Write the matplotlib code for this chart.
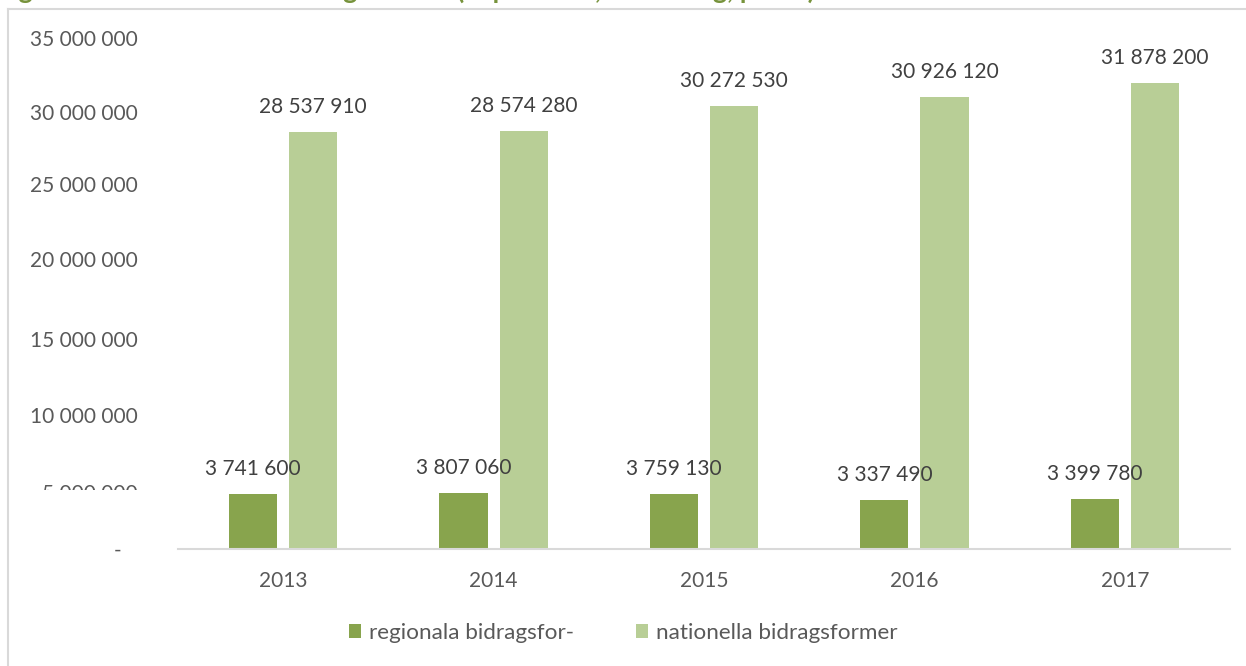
import matplotlib
matplotlib.use("Agg")
import matplotlib.pyplot as plt
from matplotlib.patches import Rectangle
from matplotlib.lines import Line2D
from matplotlib.transforms import ScaledTranslation
import numpy as np

years = ["2013", "2014", "2015", "2016", "2017"]
regional = [3741600, 3807060, 3759130, 3337490, 3399780]
national = [28537910, 28574280, 30272530, 30926120, 31878200]
series_names = ["regionala bidragsfor-", "nationella bidragsformer"]
yticks = [0, 5000000, 10000000, 15000000, 20000000, 25000000, 30000000, 35000000]
title = "Regionala och nationella bidragsformer (exportstöd, utbildning, priser) 2013–2017"

plt.rcParams['font.family'] = ['Lato', 'DejaVu Sans']
txt = '#404040'
axtxt = '#595959'
c_dark = '#88A44D'
c_light = '#B8CE96'
FS = 15

def fmt(v):
    if v == 0:
        return "-   "
    return f"{v:,}".replace(",", " ")

fig = plt.figure(figsize=(12.46, 6.66), dpi=100)
W, H = 1246, 666
ax = fig.add_axes([178 / W, 1 - 549 / H, (1230 - 178) / W, (549 - 37) / H])

x = np.arange(len(years))
off = 30 / 210
bw = 48 / 210
b1 = ax.bar(x - off, regional, bw, color=c_dark, label=series_names[0], zorder=2)
b2 = ax.bar(x + off, national, bw, color=c_light, label=series_names[1], zorder=2)

for bars, vals in ((b1, regional), (b2, national)):
    for r, v in zip(bars, vals):
        ax.annotate(fmt(v), (r.get_x() + r.get_width() / 2, v), xytext=(0, 18),
                    textcoords='offset points', ha='center', va='center',
                    fontsize=FS, color=txt, zorder=3)

ax.set_xlim(-0.5, len(years) - 0.5)
ax.set_ylim(0, 35000000)
ax.set_xticks(x)
ax.set_xticklabels(years, fontsize=FS, color=axtxt)
ax.set_yticks(yticks)
ax.set_yticklabels([fmt(v) for v in yticks], fontsize=FS, color=axtxt)
ax.tick_params(axis='both', length=0)
ax.tick_params(axis='y', pad=29)
ax.tick_params(axis='x', pad=16)
for s in ['top', 'right', 'left']:
    ax.spines[s].set_visible(False)
ax.spines['bottom'].set_color('#D9D9D9')
ax.spines['bottom'].set_linewidth(1.5)

# the reference's y labels drift slightly downward (pixels)
label_shift = [0, 16, 12, 9, 3, 1, 2, 1]
for tick, dy in zip(ax.yaxis.get_major_ticks(), label_shift):
    lab = tick.label1
    lab.set_transform(lab.get_transform() +
                      ScaledTranslation(0, -dy / 100, fig.dpi_scale_trans))

# white patch covering the lower part of the "5 000 000" label as in reference
fig.add_artist(Rectangle((20 / W, 1 - 542 / H), 150 / W, 52 / H,
                         transform=fig.transFigure, facecolor='white',
                         edgecolor='none', zorder=5))

# outer chart frame (left and top)
fig.add_artist(Line2D([8 / W, 8 / W], [0, 1 - 9 / H], transform=fig.transFigure,
                      color='#D9D9D9', lw=1.5))
fig.add_artist(Line2D([8 / W, 1], [1 - 9 / H, 1 - 9 / H], transform=fig.transFigure,
                      color='#D9D9D9', lw=1.5))

# title, clipped at the top of the figure
fig.text(-13 / W, 1 + 1 / H, title, fontsize=19.3, fontweight='bold',
         color='#77933C', ha='left', va='baseline')

leg = fig.legend(handles=[b1, b2], loc='center', bbox_to_anchor=(0.5, 1 - 633 / H),
                 ncol=2, frameon=False, fontsize=16.2, handlelength=0.55,
                 handleheight=0.55, handletextpad=0.35, columnspacing=2.75)
for t in leg.get_texts():
    t.set_color(axtxt)

fig.savefig("out.png", dpi=100)
